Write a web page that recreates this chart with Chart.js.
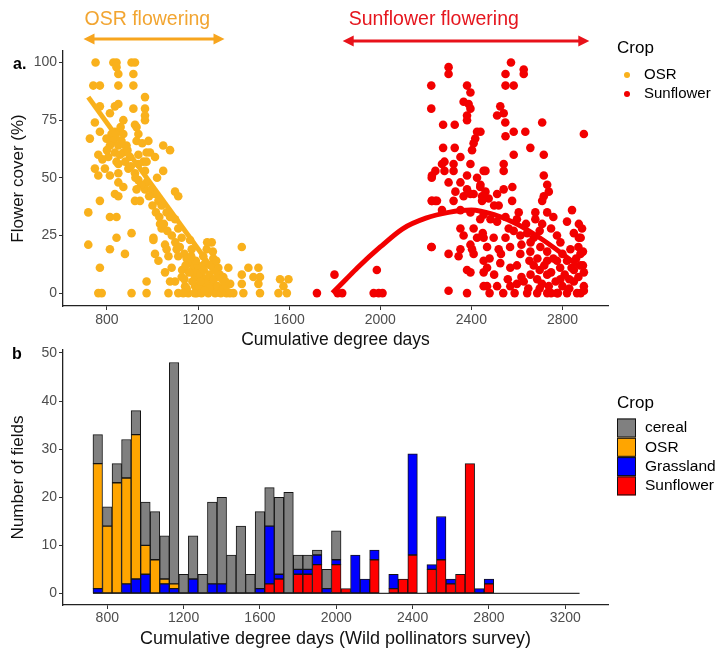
<!DOCTYPE html>
<html>
<head>
<meta charset="utf-8">
<script src="https://cdn.jsdelivr.net/npm/chart.js@4.4.1/dist/chart.umd.min.js"></script>
<style>
html,body{margin:0;padding:0;background:#fff;}
#wrap{position:relative;width:719px;height:653px;overflow:hidden;background:#fff;}
#c1{position:absolute;left:0;top:0;}
#c2{position:absolute;left:0;top:336px;}
</style>
</head>
<body>
<div id="wrap">
<canvas id="c1" width="719" height="352"></canvas>
<canvas id="c2" width="719" height="317"></canvas>
</div>
<script>
// ---------------- Panel a: flower cover vs cumulative degree days ----------------
const osrDegreeDays = [
 750, 828, 842, 908, 923, 842, 850, 916, 740, 769,
 850, 916, 967, 850, 769, 835, 916, 967, 813, 967,
 872, 967, 747, 923, 930, 769, 835, 850, 820, 872,
 938, 725, 798, 828, 864, 930, 982, 850, 1047, 813,
 886, 1077, 835, 872, 974, 989, 762, 857, 938, 806,
 901, 1011, 842, 960, 974, 850, 938, 747, 791, 894,
 967, 1047, 850, 923, 762, 813, 938, 850, 974, 872,
 967, 996, 1099, 835, 1011, 850, 1113, 769, 923, 945,
 1026, 1040, 1062, 718, 813, 842, 1077, 1099, 1033, 1040,
 1113, 908, 842, 1004, 1128, 1004, 1165, 718, 1055, 813,
 1062, 1106, 1172, 879, 1011, 1070, 1113, 1026, 1157, 769,
 1084, 1055, 1172, 1128, 1187, 1216, 974, 1077, 1099, 1143,
 1187, 1223, 762, 777, 908, 974, 1070, 1113, 1157, 1194,
 880, 905, 925, 950, 985, 1000, 1015, 1030, 1050, 1065,
 1085, 1100, 1120, 1140, 1150, 1165, 1180, 1195, 1210, 1230,
 1245, 1260, 1280, 1300, 1260, 1238, 1392, 1223, 1267, 1231,
 1267, 1289, 1333, 1421, 1465, 1311, 1392, 1443, 1472, 1560,
 1597, 1341, 1392, 1465, 1575, 1355, 1399, 1472, 1553, 1590,
 1130, 1140, 1150, 1160, 1175, 1185, 1200, 1205, 1215, 1225,
 1235, 1245, 1250, 1255, 1270, 1275, 1285, 1295, 1300, 1310,
 1320, 1325, 1340, 1250, 1230, 1210, 1190, 1170, 1145, 1135,
 1265, 1280, 1240, 890, 860, 800, 780, 930, 955, 1020
];
const osrFlowerCover = [
 100, 100, 100, 100, 100, 98, 95, 95, 90, 90,
 90, 90, 85, 82, 81, 81, 80, 80, 78, 77,
 75, 75, 74, 73, 72, 70, 70, 70, 69, 69,
 69, 67, 67, 66, 66, 66, 66, 64, 64, 64,
 64, 62, 61, 61, 61, 61, 60, 60, 60, 59,
 59, 59, 57, 57, 57, 56, 56, 54, 54, 54,
 53, 53, 52, 52, 51, 51, 49, 48, 48, 46,
 45, 45, 44, 43, 43, 42, 42, 40, 40, 40,
 40, 38, 35, 35, 33, 33, 33, 32, 30, 28,
 28, 26, 24, 24, 24, 23, 23, 21, 21, 19,
 19, 19, 19, 17, 17, 16, 16, 14, 13, 11,
 11, 9, 9, 7, 7, 7, 5, 5, 5, 3,
 3, 3, 0, 0, 0, 0, 0, 0, 0, 0,
 57, 55, 50, 47, 42, 38, 35, 33, 30, 27,
 25, 22, 20, 17, 15, 13, 11, 9, 8, 6,
 5, 4, 2, 1, 22, 19, 20, 16, 15, 13,
 11, 11, 11, 11, 11, 7, 8, 7, 7, 6,
 6, 4, 4, 4, 3, 0, 0, 0, 0, 0,
 10, 6, 2, 9, 5, 0, 12, 3, 0, 10,
 4, 0, 8, 12, 6, 0, 3, 8, 0, 2,
 5, 0, 0, 2, 1, 5, 14, 16, 12, 0,
 18, 14, 22, 62, 72, 62, 58, 45, 65, 50
];
const sunDegreeDays = [
 1722, 1799, 1813, 1833, 1985, 1971, 1993, 2010, 2300, 2300,
 2224, 2381, 2396, 2366, 2388, 2396, 2381, 2381, 2224, 2327,
 2425, 2417, 2410, 2403, 2327, 2352, 2271, 2322, 2396, 2454,
 2242, 2227, 2322, 2381, 2425, 2300, 2352, 2439, 2330, 2381,
 2396, 2366, 2410, 2227, 2249, 2322, 2447, 2447, 2271, 2352,
 2396, 2439, 2352, 2366, 2410, 2425, 2396, 2403, 2224, 2352,
 2344, 2300, 2410, 2381, 2396, 2454, 2454, 2300, 2381, 2276,
 2276, 2574, 2550, 2630, 2630, 2550, 2586, 2527, 2542, 2513,
 2549, 2711, 2894, 2586, 2637, 2550, 2659, 2586, 2718, 2440,
 2462, 2542, 2542, 2718, 2733, 2740, 2718, 2711, 2440, 2462,
 2476, 2513, 2542, 2579, 2520, 2454, 2484, 2513, 2608, 2733,
 2842, 2681, 2681, 2564, 2586, 2615, 2645, 2674, 2711, 2872,
 2886, 2872, 2454, 2498, 2550, 2469, 2520, 2776, 2791, 2615,
 2659, 2703, 2733, 2835, 2879, 2454, 2469, 2527, 2571, 2674,
 2733, 2776, 2820, 2879, 2894, 2469, 2513, 2571, 2630, 2689,
 2733, 2791, 2850, 2894, 2645, 2689, 2733, 2776, 2820, 2864,
 2894, 2660, 2700, 2710, 2720, 2740, 2750, 2760, 2770, 2780,
 2790, 2800, 2810, 2830, 2840, 2860, 2870, 2880, 2890, 2700,
 2690, 2750, 2800, 2655, 2620, 2600, 2590, 2560, 2540, 2500,
 2480, 2620, 2640, 2600, 2550, 2500, 2450, 2480, 2530, 2570,
 2600, 2650, 2660, 2700, 2750, 2820, 2850, 2880, 2760, 2580,
 2226, 2226, 2242, 2282, 2282, 2226, 2890, 2870, 2850, 2830
];
const sunFlowerCover = [
 0, 8, 0, 0, 10, 0, 0, 0, 98, 95,
 90, 90, 87, 83, 82, 80, 77, 75, 80, 73,
 70, 67, 65, 62, 63, 59, 56, 56, 56, 53,
 53, 51, 53, 51, 50, 48, 48, 46, 44, 45,
 43, 42, 43, 40, 40, 40, 42, 40, 36, 36,
 35, 32, 28, 25, 28, 24, 21, 19, 20, 19,
 16, 17, 17, 10, 9, 9, 3, 1, 0, 73,
 63, 100, 95, 97, 95, 90, 90, 81, 78, 77,
 74, 74, 69, 70, 70, 68, 63, 60, 60, 70,
 53, 56, 53, 51, 47, 44, 42, 40, 47, 44,
 41, 43, 45, 40, 38, 34, 32, 31, 35, 35,
 36, 35, 32, 28, 27, 25, 26, 24, 30, 30,
 28, 24, 24, 24, 24, 20, 19, 25, 22, 17,
 18, 20, 18, 19, 17, 14, 11, 13, 11, 12,
 14, 14, 14, 12, 9, 3, 3, 3, 5, 6,
 8, 6, 5, 3, 0, 0, 0, 0, 0, 0,
 1, 8, 10, 4, 12, 3, 9, 15, 5, 0,
 11, 3, 8, 2, 11, 15, 7, 0, 18, 2,
 15, 0, 17, 14, 7, 12, 0, 6, 0, 8,
 0, 21, 30, 32, 33, 38, 26, 15, 17, 20,
 4, 2, 22, 27, 28, 31, 26, 24, 33, 46,
 50, 40, 40, 57, 53, 20, 12, 20, 10, 6
];
// fitted trends
const osrFitDD = [718, 1340];
const osrFitCover = [85, 0];
const sunFitDD = [1790, 1850, 1900, 2000, 2100, 2200, 2300, 2400, 2500, 2600, 2700, 2800, 2880];
const sunFitCover = [0, 6, 11, 20, 28, 32.5, 35, 36, 34, 30, 24, 17, 11];
// flowering period annotations
const periodLabels = ['OSR flowering', 'Sunflower flowering'];
const periodStart = [697, 1835];
const periodEnd = [1316, 2918];
const topXTicks = [800, 1200, 1600, 2000, 2400, 2800];
const topYTicks = [0, 25, 50, 75, 100];
const topLegend = ['OSR', 'Sunflower'];

// ---------------- Panel b: wild pollinator survey histogram ----------------
const binCenters = [750, 800, 850, 900, 950, 1000, 1050, 1100, 1150, 1200,
 1250, 1300, 1350, 1400, 1450, 1500, 1550, 1600, 1650, 1700,
 1750, 1800, 1850, 1900, 1950, 2000, 2050, 2100, 2150, 2200,
 2250, 2300, 2350, 2400, 2450, 2500, 2550, 2600, 2650, 2700,
 2750, 2800];
const cerealCounts = [6, 4, 4, 8, 5, 9, 10, 9, 46, 4,
 9, 4, 17, 18, 8, 14, 4, 16, 8, 16,
 21, 3, 3, 1, 4, 6, 0, 0, 0, 0,
 0, 0, 0, 0, 0, 0, 0, 0, 0, 0,
 0, 0];
const osrCounts = [26, 14, 23, 22, 30, 6, 7, 1, 1, 0,
 0, 0, 0, 0, 0, 0, 0, 0, 0, 0,
 0, 0, 0, 0, 0, 0, 0, 0, 0, 0,
 0, 0, 0, 0, 0, 0, 0, 0, 0, 0,
 0, 0];
const grasslandCounts = [1, 0, 0, 2, 3, 4, 0, 2, 1, 0,
 3, 0, 2, 2, 0, 0, 0, 1, 12, 1,
 0, 1, 1, 2, 1, 1, 0, 8, 3, 2,
 0, 3, 0, 21, 0, 1, 9, 1, 0, 0,
 1, 1];
const sunflowerCounts = [0, 0, 0, 0, 0, 0, 0, 0, 0, 0,
 0, 0, 0, 0, 0, 0, 0, 0, 2, 3,
 0, 4, 4, 6, 0, 6, 1, 0, 0, 7,
 0, 1, 3, 8, 0, 5, 7, 2, 4, 27,
 0, 2];
const histRange = [725, 3275];
const bottomXTicks = [800, 1200, 1600, 2000, 2400, 2800, 3200];
const bottomYTicks = [0, 10, 20, 30, 40, 50];
const bottomLegend = ['cereal', 'OSR', 'Grassland', 'Sunflower'];

// ---------------- styling ----------------
const F = '"Liberation Sans", Arial, Helvetica, sans-serif';
const ORANGE_PT = '#F9B11C';
const RED_PT = '#F20000';
const TICK_COL = '#4D4D4D';

function pairs(xs, ys) { return xs.map((x, i) => ({ x: x, y: ys[i] })); }

const annotPlugin = {
  id: 'periods',
  afterDraw(chart, args, o) {
    const ctx = chart.ctx, xs = chart.scales.x;
    ctx.save();
    o.labels.forEach((lab, i) => {
      const x1 = xs.getPixelForValue(o.start[i]), x2 = xs.getPixelForValue(o.end[i]);
      const y = o.arrowY[i], col = o.colors[i];
      ctx.strokeStyle = col; ctx.fillStyle = col; ctx.lineWidth = 3;
      ctx.beginPath(); ctx.moveTo(x1 + 6, y); ctx.lineTo(x2 - 6, y); ctx.stroke();
      ctx.beginPath(); ctx.moveTo(x1, y); ctx.lineTo(x1 + 11, y - 5.5); ctx.lineTo(x1 + 11, y + 5.5); ctx.closePath(); ctx.fill();
      ctx.beginPath(); ctx.moveTo(x2, y); ctx.lineTo(x2 - 11, y - 5.5); ctx.lineTo(x2 - 11, y + 5.5); ctx.closePath(); ctx.fill();
      ctx.fillStyle = o.textColors[i];
      ctx.font = o.fontSize + 'px ' + F;
      ctx.textAlign = 'left'; ctx.textBaseline = 'middle';
      ctx.fillText(lab, x1 + o.textDx[i], o.textY);
    });
    ctx.restore();
  }
};

const legendPlugin = {
  id: 'cropLegend',
  afterDraw(chart, args, o) {
    const ctx = chart.ctx;
    ctx.save();
    ctx.textAlign = 'left'; ctx.textBaseline = 'middle';
    ctx.fillStyle = '#000';
    ctx.font = o.titleSize + 'px ' + F;
    ctx.fillText(o.title, o.x, o.titleY);
    o.items.forEach((name, i) => {
      const ds = chart.data.datasets.find(d => d.label === name);
      const cy = o.firstY + i * o.rowH;
      if (o.marker === 'dot') {
        ctx.beginPath(); ctx.arc(o.x + o.markerDx, cy, o.dotR, 0, Math.PI * 2);
        ctx.fillStyle = ds.backgroundColor; ctx.fill();
      } else {
        ctx.fillStyle = ds.backgroundColor;
        ctx.fillRect(o.x + o.markerDx, cy - o.boxH / 2, o.boxW, o.boxH);
        ctx.strokeStyle = '#111'; ctx.lineWidth = 1;
        ctx.strokeRect(o.x + o.markerDx + 0.5, cy - o.boxH / 2 + 0.5, o.boxW - 1, o.boxH - 1);
      }
      ctx.fillStyle = '#000';
      ctx.font = o.labelSize + 'px ' + F;
      ctx.fillText(name, o.x + o.labelDx, cy);
    });
    ctx.restore();
  }
};

const tagPlugin = {
  id: 'panelTag',
  afterDraw(chart, args, o) {
    const ctx = chart.ctx;
    ctx.save();
    ctx.fillStyle = '#000'; ctx.font = 'bold ' + o.size + 'px ' + F;
    ctx.textAlign = 'left'; ctx.textBaseline = 'middle';
    ctx.fillText(o.text, o.x, o.y);
    ctx.restore();
  }
};

function axisBase(ticksArr, fit, isX) {
  return {
    type: 'linear',
    offset: false,
    afterBuildTicks: s => { s.ticks = ticksArr.map(v => ({ value: v })); },
    afterFit: s => { if (isX) s.height = fit; else s.width = fit; },
    grid: { display: true, drawOnChartArea: false, drawTicks: true, tickLength: 4, color: '#333', lineWidth: 1, offset: false },
    border: { display: true, color: '#222', width: 1.3 },
    ticks: { font: { family: F, size: 14 }, color: TICK_COL, padding: 2, callback: v => String(v) }
  };
}

// ---------- top chart ----------
const topX = axisBase(topXTicks, 46, true);
topX.min = 607; topX.max = 3000;
topX.title = { display: true, text: 'Cumulative degree days', color: '#111', font: { family: F, size: 17.5 }, padding: { top: 0, bottom: 1 } };
const topY = axisBase(topYTicks, 63, false);
topY.min = -5.6; topY.max = 105;
topY.title = { display: true, text: 'Flower cover (%)', color: '#111', font: { family: F, size: 17 }, padding: { top: 8, bottom: 0 } };

new Chart(document.getElementById('c1'), {
  type: 'scatter',
  data: {
    datasets: [
      { type: 'line', label: 'OSR trend', data: pairs(osrFitDD, osrFitCover), borderColor: ORANGE_PT, borderWidth: 5, pointRadius: 0, fill: false },
      { type: 'line', label: 'Sunflower trend', data: pairs(sunFitDD, sunFitCover), borderColor: RED_PT, borderWidth: 5, pointRadius: 0, fill: false, cubicInterpolationMode: 'monotone' },
      { label: 'OSR', data: pairs(osrDegreeDays, osrFlowerCover), backgroundColor: ORANGE_PT, borderWidth: 0, pointRadius: 4.3 },
      { label: 'Sunflower', data: pairs(sunDegreeDays, sunFlowerCover), backgroundColor: RED_PT, borderWidth: 0, pointRadius: 4.3 }
    ]
  },
  options: {
    responsive: false, animation: false, events: [],
    layout: { padding: { left: 0, top: 51, right: 111, bottom: 0 } },
    scales: { x: topX, y: topY },
    plugins: {
      legend: { display: false }, tooltip: { enabled: false },
      periods: { labels: periodLabels, start: periodStart, end: periodEnd, arrowY: [39, 41],
        colors: ['#F7A51E', '#E8121A'], textColors: ['#F2A531', '#E5161E'], textDx: [1, 6], textY: 20, fontSize: 19.5 },
      cropLegend: { title: 'Crop', x: 617, titleY: 48, items: topLegend, marker: 'dot', markerDx: 10, dotR: 3,
        firstY: 75, rowH: 19, labelDx: 27, titleSize: 17, labelSize: 15 },
      panelTag: { text: 'a.', x: 13, y: 65, size: 16 }
    }
  },
  plugins: [annotPlugin, legendPlugin, tagPlugin]
});

// ---------- bottom chart ----------
const botX = axisBase(bottomXTicks, 48, true);
botX.min = 568; botX.max = 3424; botX.stacked = true;
botX.title = { display: true, text: 'Cumulative degree days (Wild pollinators survey)', color: '#111', font: { family: F, size: 18 }, padding: { top: 0, bottom: 3 } };
botX.ticks.padding = 1;
const botY = axisBase(bottomYTicks, 63, false);
botY.min = -2.4; botY.max = 50.6; botY.stacked = true;
botY.title = { display: true, text: 'Number of fields', color: '#111', font: { family: F, size: 17 }, padding: { top: 8, bottom: 0 } };

function barSet(label, counts, color) {
  return { type: 'bar', label: label, data: pairs(binCenters, counts), backgroundColor: color,
    borderColor: '#151515', borderWidth: 1, borderSkipped: false, barPercentage: 1, categoryPercentage: 1, stack: 'crop' };
}

new Chart(document.getElementById('c2'), {
  type: 'bar',
  data: {
    datasets: [
      barSet('Sunflower', sunflowerCounts, '#FF0000'),
      barSet('Grassland', grasslandCounts, '#0000FF'),
      barSet('OSR', osrCounts, '#FFA500'),
      barSet('cereal', cerealCounts, '#808080'),
      { type: 'line', label: 'zero', data: pairs(histRange, [0, 0]), borderColor: '#333', borderWidth: 1.2, pointRadius: 0, fill: false, stack: 'base' }
    ]
  },
  options: {
    responsive: false, animation: false, events: [],
    layout: { padding: { left: 0, top: 14, right: 111, bottom: 0 } },
    scales: { x: botX, y: botY },
    plugins: {
      legend: { display: false }, tooltip: { enabled: false },
      cropLegend: { title: 'Crop', x: 617, titleY: 67, items: bottomLegend, marker: 'box', markerDx: 0, boxW: 19, boxH: 19,
        firstY: 92, rowH: 19.3, labelDx: 28, titleSize: 17, labelSize: 15.5 },
      panelTag: { text: 'b', x: 12, y: 19, size: 16 }
    }
  },
  plugins: [legendPlugin, tagPlugin]
});
</script>
</body>
</html>
